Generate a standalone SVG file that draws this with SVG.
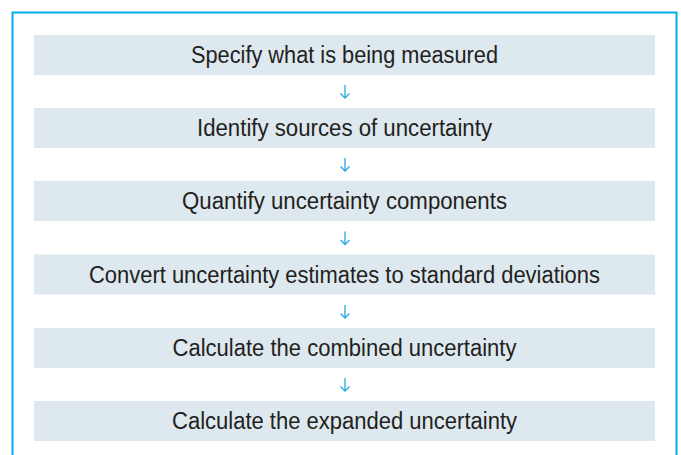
<svg xmlns="http://www.w3.org/2000/svg" width="681" height="455" viewBox="0 0 681 455">
<style>
.box{fill:#dde8ef}
.lbl{font-family:"Liberation Sans",Arial,sans-serif;font-size:23px;fill:#231f20;text-anchor:middle}
.arr{fill:none;stroke:#29a8e0;stroke-width:1.3}
</style>
<rect width="681" height="455" fill="#fff"/>
<path d="M12.5,460 V12.5 H676.5 V460" fill="none" stroke="#00aeef" stroke-width="2"/>
<g id="n1"><rect class="box" x="34" y="35" width="621" height="40"/><text class="lbl" x="344.5" y="63" textLength="307" lengthAdjust="spacingAndGlyphs">Specify what is being measured</text></g>
<g id="n2"><rect class="box" x="34" y="108" width="621" height="40"/><text class="lbl" x="344.5" y="136" textLength="295" lengthAdjust="spacingAndGlyphs">Identify sources of uncertainty</text></g>
<g id="n3"><rect class="box" x="34" y="181" width="621" height="40"/><text class="lbl" x="344.5" y="209" textLength="325" lengthAdjust="spacingAndGlyphs">Quantify uncertainty components</text></g>
<g id="n4"><rect class="box" x="34" y="254.5" width="621" height="40"/><text class="lbl" x="344.5" y="282.5" textLength="511" lengthAdjust="spacingAndGlyphs">Convert uncertainty estimates to standard deviations</text></g>
<g id="n5"><rect class="box" x="34" y="328" width="621" height="40"/><text class="lbl" x="344.5" y="356" textLength="344" lengthAdjust="spacingAndGlyphs">Calculate the combined uncertainty</text></g>
<g id="n6"><rect class="box" x="34" y="401" width="621" height="40"/><text class="lbl" x="344.5" y="429" textLength="345" lengthAdjust="spacingAndGlyphs">Calculate the expanded uncertainty</text></g>
<g id="connectors">
<path class="arr" d="M345,85 V98 M340.5,93.5 L345,98 L349.5,93.5"/>
<path class="arr" d="M345,158 V171 M340.5,166.5 L345,171 L349.5,166.5"/>
<path class="arr" d="M345,231.5 V244.5 M340.5,240 L345,244.5 L349.5,240"/>
<path class="arr" d="M345,305 V318 M340.5,313.5 L345,318 L349.5,313.5"/>
<path class="arr" d="M345,378 V391 M340.5,386.5 L345,391 L349.5,386.5"/>
</g>
</svg>
